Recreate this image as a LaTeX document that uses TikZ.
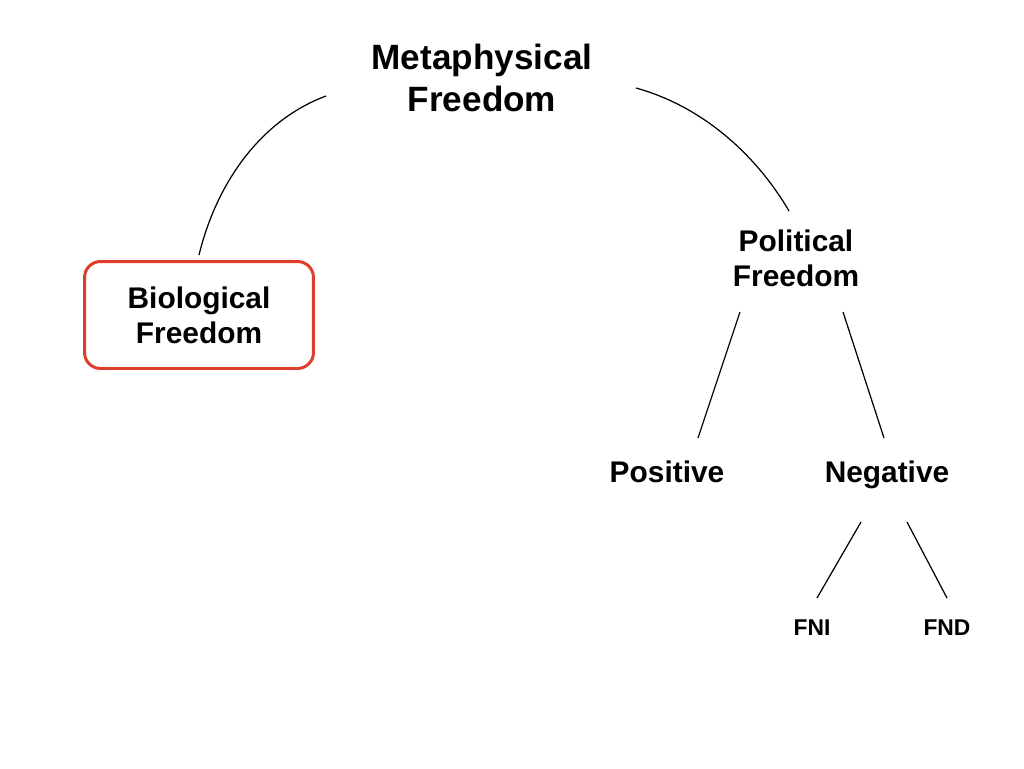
\documentclass[tikz,border=0pt]{standalone}
\usepackage{fontspec}
\setmainfont{Liberation Sans}
\usetikzlibrary{positioning,calc}
\definecolor{boxred}{RGB}{222,62,42}

\begin{document}
\begin{tikzpicture}[x=0.02cm,y=-0.02cm,
		big/.style={font=\bfseries\fontsize{20}{24}\selectfont,align=center},
		mid/.style={font=\bfseries\fontsize{17}{20}\selectfont,align=center},
		small/.style={font=\bfseries\fontsize{13}{15}\selectfont},
		redbox/.style={mid,draw=boxred,line width=1.7pt,rounded corners=0.32cm,minimum width=4.58cm,minimum height=2.14cm},
		link/.style={line width=0.7pt}]
		\useasboundingbox (0,0) rectangle (1024,768);
		
		\node[big] (meta) at (482,78) {Metaphysical\\Freedom};
		\node[mid] (pol) at (796,258) {Political\\Freedom};
		\node[redbox] (bio) at (199,315) {Biological\\Freedom};
		\node[mid,anchor=base] (pos) at (667,482) {Positive};
		\node[mid,anchor=base] (neg) at (887,482) {Negative};
		\node[small] (fni) at (812,628) {FNI};
		\node[small] (fnd) at (947,628) {FND};
		
		\draw[link] ($(meta)+(-156,18)$) .. controls +(-67,25) and +(17,-70) .. ($(bio.north)+(0,-5)$);
		\draw[link] ($(meta)+(154,10)$) .. controls +(65,18) and +(-34,-58) .. ($(pol)+(-7,-47)$);
		
		\draw[link] ($(pol)+(-56,54)$)--($(pos.base)+(31,-44)$);
		\draw[link] ($(pol)+(47,54)$)--($(neg.base)+(-3,-44)$);
		\draw[link] ($(neg.base)+(-26,40)$)--($(fni)+(5,-30)$);
		\draw[link] ($(neg.base)+(20,40)$)--($(fnd)+(0,-30)$);
	\end{tikzpicture}
\end{document}
